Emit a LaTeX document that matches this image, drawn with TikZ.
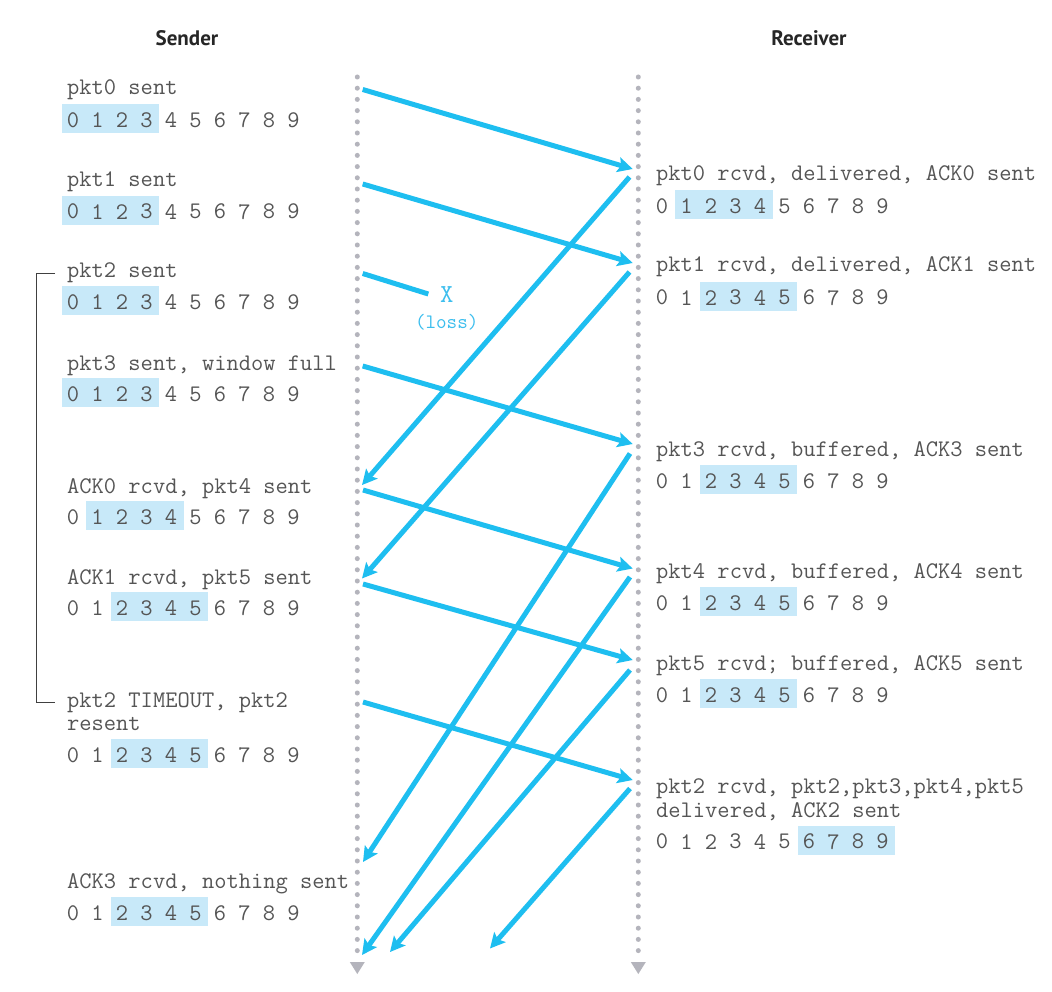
\documentclass[tikz,border=0pt]{standalone}
\usepackage{fontspec}
\newfontfamily\headfont{PT Sans}
\usetikzlibrary{arrows.meta}
\definecolor{ablue}{RGB}{30,190,240}
\definecolor{lossc}{RGB}{60,190,238}
\definecolor{boxc}{RGB}{200,233,249}
\definecolor{dotc}{RGB}{180,180,188}
\definecolor{txtc}{RGB}{85,85,85}
\newcommand\monofont{\fontsize{23.8}{28}\selectfont\ttfamily}
\newcommand\digrow[5]{%
  \fill[boxc] ({#2+24.5*#4-11.5},{#3-16}) rectangle ({#2+24.5*#5+12.5},{#3+13});
  \foreach \dg in {0,...,9}{\node[dig] (#1-\dg) at ({#2+24.5*\dg},#3) {\dg};}
}
\tikzset{
  lbl/.style={anchor=base west, inner sep=0pt, text=txtc, font=\monofont},
  dig/.style={anchor=center, inner sep=0pt, text=txtc, font=\monofont},
  head/.style={inner sep=0pt, text=black!85, font=\headfont\bfseries\fontsize{21}{25}\selectfont},
  arr/.style={draw=ablue, line width=5pt, -{Stealth[length=15pt,width=15pt,inset=3pt]}},
  lost/.style={draw=ablue, line width=5pt},
  lifeline/.style={draw=dotc, line width=5pt, line cap=round, dash pattern=on 0pt off 11.2pt},
  bracket/.style={draw=black!75, line width=0.9pt},
}
\begin{document}
\begin{tikzpicture}[x=1pt,y=-1pt]
\fill[white] (0,0) rectangle (1052,992);
\useasboundingbox (0,0) rectangle (1052,992);

% headings
\node[head] (sender) at (187,38) {Sender};
\node[head] (receiver) at (809,38) {Receiver};

% lifelines
\coordinate (sl-top) at (357.3,77);
\coordinate (sl-bot) at (357.3,957);
\coordinate (rl-top) at (638.3,77);
\coordinate (rl-bot) at (638.3,957);
\draw[lifeline] (sl-top) -- (sl-bot);
\draw[lifeline] (rl-top) -- (rl-bot);
\fill[dotc] (349.8,962) -- (364.8,962) -- (357.3,974) -- cycle;
\fill[dotc] (630.8,962) -- (645.8,962) -- (638.3,974) -- cycle;

% sender labels
\node[lbl] (s0l) at (67,95) {pkt0 sent};
\node[lbl] (s1l) at (67,187) {pkt1 sent};
\node[lbl] (s2l) at (67,278) {pkt2 sent};
\node[lbl] (s3l) at (67,370) {pkt3 sent, window full};
\node[lbl] (s4l) at (67,493) {ACK0 rcvd, pkt4 sent};
\node[lbl] (s5l) at (67,584) {ACK1 rcvd, pkt5 sent};
\node[lbl] (s6l) at (67,707) {pkt2 TIMEOUT, pkt2};
\node[lbl] (s6m) at (67,730) {resent};
\node[lbl] (s7l) at (67,888) {ACK3 rcvd, nothing sent};

\digrow{s0}{73.1}{120}{0}{3}
\digrow{s1}{73.1}{211.7}{0}{3}
\digrow{s2}{73.1}{302}{0}{3}
\digrow{s3}{73.1}{394}{0}{3}
\digrow{s4}{73.1}{517}{1}{4}
\digrow{s5}{73.1}{608}{2}{5}
\digrow{s6}{73.1}{755}{2}{5}
\digrow{s7}{73.1}{913}{2}{5}

% receiver labels
\node[lbl] (r0l) at (656,181) {pkt0 rcvd, delivered, ACK0 sent};
\node[lbl] (r1l) at (656,272) {pkt1 rcvd, delivered, ACK1 sent};
\node[lbl] (r3l) at (656,456) {pkt3 rcvd, buffered, ACK3 sent};
\node[lbl] (r4l) at (656,578) {pkt4 rcvd, buffered, ACK4 sent};
\node[lbl] (r5l) at (656,670) {pkt5 rcvd; buffered, ACK5 sent};
\node[lbl] (r2l) at (656,793) {pkt2 rcvd, pkt2,pkt3,pkt4,pkt5};
\node[lbl] (r2m) at (656,817) {delivered, ACK2 sent};

\digrow{r0}{662.1}{206}{1}{4}
\digrow{r1}{662.1}{297.7}{2}{5}
\digrow{r3}{662.1}{481}{2}{5}
\digrow{r4}{662.1}{603}{2}{5}
\digrow{r5}{662.1}{695}{2}{5}
\digrow{r2}{662.1}{841.7}{6}{9}

% timeout bracket
\draw[bracket] ([xshift=-12pt]s2l.west) -- ++(-19,0) |- ([xshift=-12pt]s6l.west);

% data packets
\coordinate (a0s) at (362.7,89.5);  \coordinate (a0e) at (632.7,169);
\coordinate (a1s) at (362.7,184);   \coordinate (a1e) at (632.7,263);
\coordinate (a2s) at (362.7,273.5); \coordinate (a2e) at (428.3,294);
\coordinate (a3s) at (362.7,366);   \coordinate (a3e) at (632.7,444);
\coordinate (a4s) at (363,490);     \coordinate (a4e) at (632.7,568.5);
\coordinate (a5s) at (363,584);     \coordinate (a5e) at (632.7,660);
\coordinate (a6s) at (363,702);     \coordinate (a6e) at (632.7,780);
\draw[arr] (a0s) -- (a0e);
\draw[arr] (a1s) -- (a1e);
\draw[lost] (a2s) -- (a2e);
\draw[arr] (a3s) -- (a3e);
\draw[arr] (a4s) -- (a4e);
\draw[arr] (a5s) -- (a5e);
\draw[arr] (a6s) -- (a6e);

\node[inner sep=0pt, text=lossc, font=\fontsize{26}{30}\selectfont\ttfamily] (lossx) at (446.7,295) {X};
\node[inner sep=0pt, text=lossc, font=\fontsize{20.5}{24}\selectfont\ttfamily] (losst) at (446.7,322) {(loss)};

% ACKs
\coordinate (k0s) at (629.5,177);   \coordinate (k0e) at (362,485);
\coordinate (k1s) at (629.5,272);   \coordinate (k1e) at (362,578.5);
\coordinate (k3s) at (630,453.5);   \coordinate (k3e) at (363,862);
\coordinate (k4s) at (630,577);     \coordinate (k4e) at (362,955);
\coordinate (k5s) at (630,670);     \coordinate (k5e) at (390,952);
\coordinate (k2s) at (630,788.5);   \coordinate (k2e) at (490,948.5);
\draw[arr] (k0s) -- (k0e);
\draw[arr] (k1s) -- (k1e);
\draw[arr] (k3s) -- (k3e);
\draw[arr] (k4s) -- (k4e);
\draw[arr] (k5s) -- (k5e);
\draw[arr] (k2s) -- (k2e);
\end{tikzpicture}
\end{document}
